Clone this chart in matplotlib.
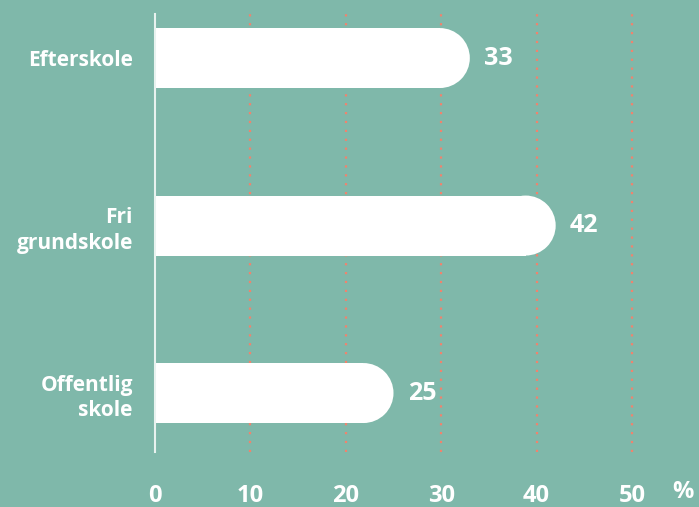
import matplotlib

matplotlib.use("Agg")
import matplotlib.pyplot as plt
from matplotlib.patches import Ellipse

# data
categories = ["Efterskole", "Fri\ngrundskole", "Offentlig\nskole"]
values = [33, 42, 25]
xticks = [0, 10, 20, 30, 40, 50]

BG = "#7fb8aa"
GRID = "#f0836e"
WHITE = "#ffffff"
FONT = "Open Sans"

fig = plt.figure(figsize=(6.99, 5.07), dpi=100, facecolor=BG)
ax = fig.add_axes([155 / 699, 55 / 507, 477 / 699, 438 / 507])
ax.set_facecolor(BG)

ax.set_xlim(0, 50)
ax.set_ylim(2.352, -0.263)

# dotted grid lines
for x in xticks[1:]:
    ax.axvline(x, color=GRID, lw=1.6, ls=(0, (1, 3)), zorder=1,
               clip_on=False, dash_capstyle="butt")

# bars: rectangle + half circle cap on the right
bar_h = 0.358
r = 3.145  # cap radius in x units (same pixels as bar_h / 2 in y)
ypos = list(range(len(values)))
ax.barh(ypos, [v - r for v in values], height=bar_h, color=WHITE,
        zorder=2, linewidth=0)
for i, v in enumerate(values):
    ax.add_patch(Ellipse((v - r, i), 2 * r, bar_h, fc=WHITE, ec="none",
                         zorder=2))
    ax.text(v + 1.5, i, str(v), color=WHITE, fontsize=18, fontweight="bold",
            family=FONT, va="center", ha="left", zorder=3)

for s in ["top", "right", "bottom"]:
    ax.spines[s].set_visible(False)
ax.spines["left"].set_color("#e8f2ef")
ax.spines["left"].set_linewidth(1.5)
ax.spines["left"].set_zorder(4)

ax.set_yticks(ypos)
ax.set_yticklabels(categories, color=WHITE, fontsize=15, fontweight="bold",
                   family=FONT, ha="right", linespacing=1.3)
ax.set_xticks(xticks)
ax.set_xticklabels([str(t) for t in xticks], color=WHITE, fontsize=17,
                   fontweight="bold", family=FONT)
ax.tick_params(axis="y", length=0, pad=16)
ax.tick_params(axis="x", length=0, pad=23)

fig.text(683 / 699, 1 - 492 / 507, "%", color=WHITE, fontsize=17,
         fontweight="bold", family=FONT, ha="center", va="center")

fig.savefig("out.png", dpi=100, facecolor=BG)
